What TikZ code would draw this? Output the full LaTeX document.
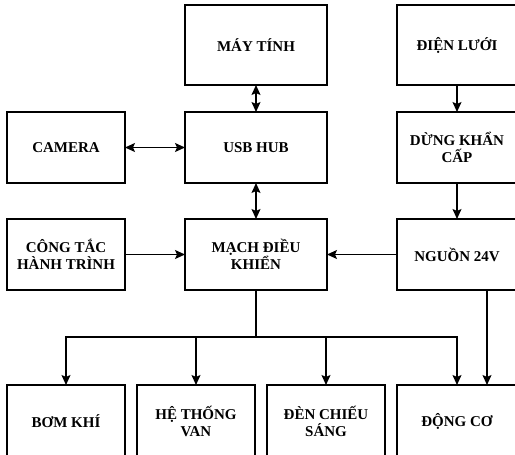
\documentclass[tikz,border=0pt]{standalone}
\usepackage{fontspec}
\setmainfont{Liberation Serif}
\usetikzlibrary{positioning,arrows.meta}
\tikzset{node distance=27pt, >={Stealth[length=10pt,width=9pt,inset=2pt]},
	blk/.style={draw, line width=1.2pt, inner sep=0pt, outer sep=0pt, align=center,
		minimum width=118pt, minimum height=71pt, font=\fontsize{15}{17}\selectfont\bfseries},
	wide/.style={minimum width=142pt},
	edge/.style={minimum width=120pt},
	tall/.style={minimum height=80pt},
	con/.style={line width=1.2pt}}
\begin{document}
\begin{tikzpicture}
				\useasboundingbox (0,0) rectangle (515pt,-455pt);
				\node[blk,wide,tall] (MT) at (256pt,-45pt) {MÁY TÍNH};
				\node[blk,wide] (USB) [below=of MT] {USB HUB};
				\node[blk] (CAM) [left=60pt of USB] {CAMERA};
				\node[blk,edge,tall] (DL) [right=70pt of MT] {ĐIỆN LƯỚI};
				\node[blk,edge] (DKC) [below=of DL] {DỪNG KHẨN\\CẤP};

				\node[blk,wide] (MDK) [below=36pt of USB] {MẠCH ĐIỀU\\KHIỂN};
				\node[blk] (CT) [left=60pt of MDK] {CÔNG TẮC\\HÀNH TRÌNH};
				\node[blk,edge] (NG) [right=70pt of MDK] {NGUỒN 24V};

				\node[blk,minimum height=72pt] (BK) [below=95pt of CT] {BƠM KHÍ};
				\node[blk,minimum height=72pt] (HT) [right=12pt of BK] {HỆ THỐNG\\VAN};
				\node[blk,minimum height=72pt] (DC) [right=12pt of HT] {ĐÈN CHIẾU\\SÁNG};
				\node[blk,edge,minimum height=72pt] (DCO) [right=12pt of DC] {ĐỘNG CƠ};

				\coordinate[below=47pt of MDK] (J);

				\path[con]
				(MT) edge[<->] (USB)
				(CAM) edge[<->] (USB)
				(USB) edge[<->] (MDK)
				(DL) edge[->] (DKC)
				(DKC) edge[->] (NG)
				(CT) edge[->] (MDK)
				(NG) edge[->] (MDK)
				([xshift=30pt]NG.south) edge[->] ([xshift=30pt]DCO.north);
				\draw[con] (MDK) -- (J);
				\draw[con,->] (J) -| (BK);
				\draw[con,->] (J) -| (HT);
				\draw[con,->] (J) -| (DC);
				\draw[con,->] (J) -| (DCO);
			\end{tikzpicture}
\end{document}
